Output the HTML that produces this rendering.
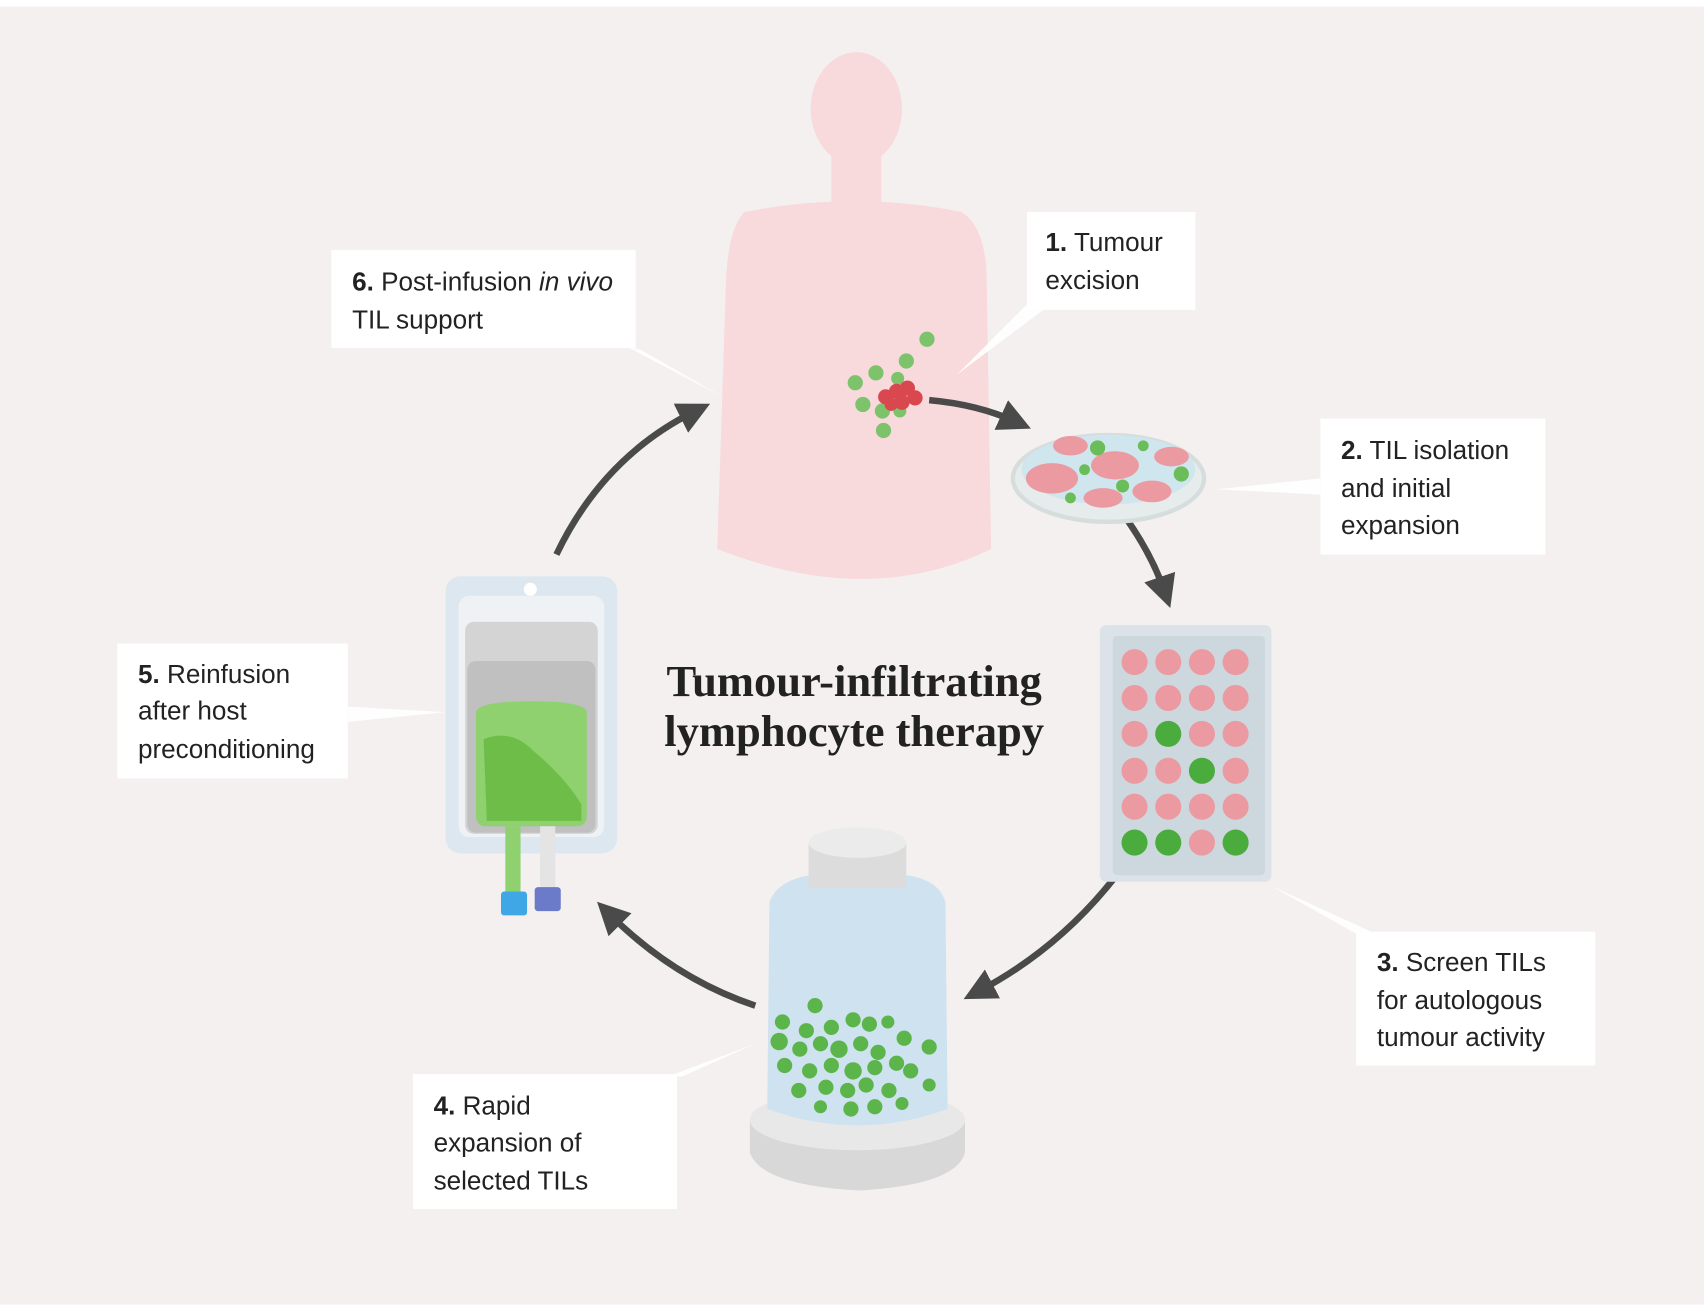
<!DOCTYPE html>
<html><head><meta charset="utf-8"><style>
html,body{margin:0;padding:0;background:#fff}
svg{display:block}
text{font-family:"Liberation Sans",sans-serif;fill:#222}
</style></head><body>
<svg width="1704" height="1309" viewBox="0 0 1568 1204" preserveAspectRatio="none" xmlns="http://www.w3.org/2000/svg">
<defs>
<marker id="ah" viewBox="0 0 10 10" refX="5" refY="5" markerWidth="5" markerHeight="5" orient="auto"><path d="M0,0 L10,5 L0,10 z" fill="#4a4a4a"/></marker>
</defs>
<rect x="0" y="6" width="1568" height="1194" fill="#f4f0f0"/>
<!-- body -->
<g fill="#f8d9dc">
<ellipse cx="788" cy="100" rx="42" ry="52"/>
<rect x="765" y="140" width="46" height="60"/>
<path d="M685,195 Q788,175 885,195 Q908,210 908,260 L912,505 Q800,560 660,505 L668,260 Q670,210 685,195 Z"/>
</g>
<!-- pointer lines -->
<g fill="#ffffff" opacity="0.9">
<polygon points="945,280 960,285 880,345"/>
<polygon points="575,318 590,322 665,365"/>
<polygon points="1215,440 1215,455 1120,450"/>
<polygon points="320,650 320,664 410,655"/>
<polygon points="1250,860 1262,857 1170,815"/>
<polygon points="615,990 628,990 695,960"/>
</g>
<!-- tumour -->
<g fill="#7cc36b"><circle cx="853" cy="312" r="7"/><circle cx="834" cy="332" r="7"/><circle cx="806" cy="343" r="7"/><circle cx="787" cy="352" r="7"/><circle cx="826" cy="348" r="6"/><circle cx="794" cy="372" r="7"/><circle cx="812" cy="378" r="7"/><circle cx="828" cy="378" r="6"/><circle cx="813" cy="396" r="7"/></g>
<g fill="#d9474f"><circle cx="815" cy="365" r="7"/><circle cx="825" cy="360" r="7"/><circle cx="835" cy="357" r="7"/><circle cx="842" cy="366" r="7"/><circle cx="830" cy="370" r="7"/><circle cx="820" cy="372" r="6"/></g>
<!-- arrows -->
<g stroke="#4a4a4a" stroke-width="6" fill="none" marker-end="url(#ah)">
<path d="M855,368 Q900,372 935,388"/>
<path d="M1035,475 Q1060,510 1072,545"/>
<path d="M1035,795 Q980,870 900,912"/>
<path d="M695,925 Q620,900 560,840"/>
<path d="M512,510 Q555,420 640,378"/>
</g>
<!-- petri dish -->
<ellipse cx="1020" cy="440" rx="88" ry="40" fill="#e6ecec" stroke="#d6dddd" stroke-width="4"/>
<ellipse cx="1020" cy="432" rx="80" ry="32" fill="#cfe6ef"/>
<g fill="#eb9aa1"><ellipse cx="968" cy="440" rx="24" ry="14"/><ellipse cx="1026" cy="428" rx="22" ry="13"/><ellipse cx="985" cy="410" rx="16" ry="9"/><ellipse cx="1078" cy="420" rx="16" ry="9"/><ellipse cx="1060" cy="452" rx="18" ry="10"/><ellipse cx="1015" cy="458" rx="18" ry="9"/></g>
<g fill="#6bbd5a"><circle cx="1010" cy="412" r="7"/><circle cx="998" cy="432" r="5"/><circle cx="1033" cy="447" r="6"/><circle cx="1087" cy="436" r="7"/><circle cx="985" cy="458" r="5"/><circle cx="1052" cy="410" r="5"/></g>
<!-- plate -->
<rect x="1012" y="575" width="158" height="236" rx="6" fill="#dbe3e8"/>
<rect x="1024" y="585" width="140" height="220" rx="4" fill="#cdd7de"/>
<g>
<g fill="#eb9aa1">
<circle cx="1044" cy="609" r="12"/><circle cx="1075" cy="609" r="12"/><circle cx="1106" cy="609" r="12"/><circle cx="1137" cy="609" r="12"/>
<circle cx="1044" cy="642" r="12"/><circle cx="1075" cy="642" r="12"/><circle cx="1106" cy="642" r="12"/><circle cx="1137" cy="642" r="12"/>
<circle cx="1044" cy="675" r="12"/><circle cx="1106" cy="675" r="12"/><circle cx="1137" cy="675" r="12"/>
<circle cx="1044" cy="709" r="12"/><circle cx="1075" cy="709" r="12"/><circle cx="1137" cy="709" r="12"/>
<circle cx="1044" cy="742" r="12"/><circle cx="1075" cy="742" r="12"/><circle cx="1106" cy="742" r="12"/><circle cx="1137" cy="742" r="12"/>
<circle cx="1106" cy="775" r="12"/></g>
<g fill="#4aac3c"><circle cx="1075" cy="675" r="12"/><circle cx="1106" cy="709" r="12"/><circle cx="1044" cy="775" r="12"/><circle cx="1075" cy="775" r="12"/><circle cx="1137" cy="775" r="12"/></g>
</g>
<!-- bottle -->
<path d="M690,1030 L690,1060 Q700,1090 790,1095 Q880,1090 888,1060 L888,1030 Z" fill="#d8d8d8"/>
<ellipse cx="789" cy="1030" rx="99" ry="28" fill="#e8e8e8"/>
<path d="M708,830 Q715,810 745,805 L835,805 Q865,810 870,830 L872,1020 Q790,1050 706,1020 Z" fill="#cfe2ef"/>
<rect x="744" y="775" width="90" height="42" fill="#dcdcdc"/>
<ellipse cx="789" cy="775" rx="45" ry="14" fill="#ebebeb"/>
<g fill="#5cb54b">
<circle cx="750" cy="925" r="7"/><circle cx="720" cy="940" r="7"/><circle cx="742" cy="948" r="7"/><circle cx="765" cy="945" r="7"/><circle cx="785" cy="938" r="7"/><circle cx="800" cy="942" r="7"/><circle cx="817" cy="940" r="6"/><circle cx="717" cy="958" r="8"/><circle cx="736" cy="965" r="7"/><circle cx="755" cy="960" r="7"/><circle cx="772" cy="965" r="8"/><circle cx="792" cy="960" r="7"/><circle cx="808" cy="968" r="7"/><circle cx="832" cy="955" r="7"/><circle cx="855" cy="963" r="7"/><circle cx="722" cy="980" r="7"/><circle cx="745" cy="985" r="7"/><circle cx="765" cy="980" r="7"/><circle cx="785" cy="985" r="8"/><circle cx="805" cy="982" r="7"/><circle cx="825" cy="978" r="7"/><circle cx="838" cy="985" r="7"/><circle cx="735" cy="1003" r="7"/><circle cx="760" cy="1000" r="7"/><circle cx="780" cy="1003" r="7"/><circle cx="797" cy="998" r="7"/><circle cx="818" cy="1003" r="7"/><circle cx="855" cy="998" r="6"/><circle cx="755" cy="1018" r="6"/><circle cx="783" cy="1020" r="7"/><circle cx="805" cy="1018" r="7"/><circle cx="830" cy="1015" r="6"/></g>
<!-- IV bag -->
<rect x="410" y="530" width="158" height="255" rx="14" fill="#dde7ef"/>
<rect x="422" y="548" width="134" height="222" rx="10" fill="#eef2f5"/>
<circle cx="488" cy="542" r="6" fill="#fff"/>
<rect x="428" y="572" width="122" height="195" rx="8" fill="#d4d4d4"/>
<rect x="430" y="608" width="118" height="158" rx="8" fill="#c0c0c0"/>
<path d="M438,655 Q440,645 490,645 Q538,645 540,655 L540,750 Q540,760 530,760 L448,760 Q438,760 438,750 Z" fill="#8fd06f"/>
<path d="M445,680 Q470,670 490,690 Q520,715 535,740 L535,755 L448,755 Z" fill="#6dbd48"/>
<rect x="465" y="760" width="14" height="62" fill="#8fd06f"/>
<rect x="497" y="760" width="14" height="58" fill="#e4e4e4"/>
<rect x="461" y="820" width="24" height="22" rx="3" fill="#3fa7e6"/>
<rect x="492" y="816" width="24" height="22" rx="3" fill="#6b7ac9"/>
<!-- label boxes -->
<g fill="#ffffff">
<rect x="945" y="195" width="155" height="90"/>
<rect x="305" y="230" width="280" height="90"/>
<rect x="1215" y="385" width="207" height="125"/>
<rect x="108" y="592" width="212" height="124"/>
<rect x="1248" y="857" width="220" height="123"/>
<rect x="380" y="988" width="243" height="124"/>
</g>
<g font-size="24">
<text x="962" y="231"><tspan font-weight="bold">1.</tspan> Tumour</text>
<text x="962" y="266">excision</text>
<text x="324" y="267"><tspan font-weight="bold">6.</tspan> Post-infusion <tspan font-style="italic">in vivo</tspan></text>
<text x="324" y="302">TIL support</text>
<text x="1234" y="422"><tspan font-weight="bold">2.</tspan> TIL isolation</text>
<text x="1234" y="457">and initial</text>
<text x="1234" y="491">expansion</text>
<text x="127" y="628"><tspan font-weight="bold">5.</tspan> Reinfusion</text>
<text x="127" y="662">after host</text>
<text x="127" y="697">preconditioning</text>
<text x="1267" y="893"><tspan font-weight="bold">3.</tspan> Screen TILs</text>
<text x="1267" y="928">for autologous</text>
<text x="1267" y="962">tumour activity</text>
<text x="399" y="1025"><tspan font-weight="bold">4.</tspan> Rapid</text>
<text x="399" y="1059">expansion of</text>
<text x="399" y="1094">selected TILs</text>
</g>
<g font-weight="bold" font-size="41" text-anchor="middle">
<text x="786" y="640" style="font-family:'Liberation Serif',serif">Tumour-infiltrating</text>
<text x="786" y="686" style="font-family:'Liberation Serif',serif">lymphocyte therapy</text>
</g>
</svg>
</body></html>
